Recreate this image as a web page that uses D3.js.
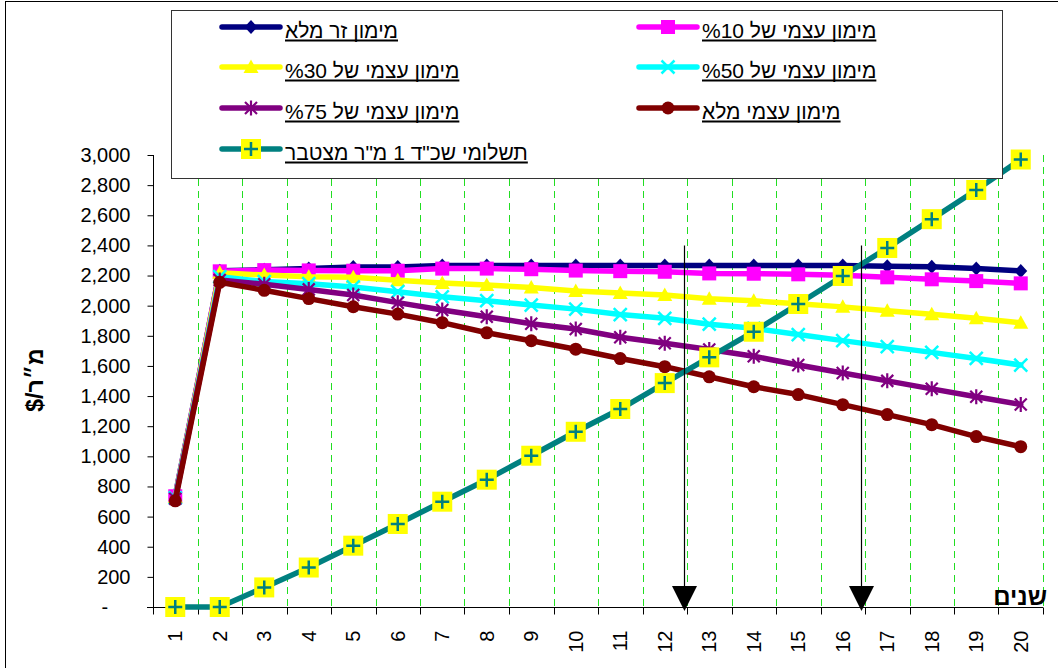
<!DOCTYPE html>
<html>
<head>
<meta charset="utf-8">
<script src="https://cdn.jsdelivr.net/npm/d3@7"></script>
<style>
  html, body { margin: 0; padding: 0; background: #fff; }
  svg { display: block; font-family: "Liberation Sans", Arial, "DejaVu Sans", sans-serif; }
</style>
</head>
<body>
<svg id="chart" width="1058" height="668"></svg>
<script>
// ---- data -------------------------------------------------------------
const years = [1, 2, 3, 4, 5, 6, 7, 8, 9, 10, 11, 12, 13, 14, 15, 16, 17, 18, 19, 20];
const yTicks = [0, 200, 400, 600, 800, 1000, 1200, 1400, 1600, 1800, 2000, 2200, 2400, 2600, 2800, 3000];

const foreignFull  = [740, 2232, 2238, 2247, 2256, 2257, 2266, 2267, 2267, 2267, 2267, 2267, 2267, 2267, 2267, 2267, 2262, 2258, 2246, 2230];
const equity10     = [735, 2228, 2236, 2234, 2232, 2232, 2246, 2246, 2242, 2233, 2229, 2225, 2214, 2212, 2208, 2202, 2188, 2175, 2163, 2148];
const equity30     = [730, 2218, 2203, 2192, 2188, 2168, 2150, 2137, 2120, 2098, 2084, 2071, 2046, 2032, 2012, 1992, 1966, 1943, 1916, 1886];
const equity50     = [725, 2192, 2160, 2146, 2124, 2093, 2059, 2033, 2004, 1977, 1941, 1916, 1877, 1850, 1808, 1768, 1728, 1690, 1650, 1606];
const equity75     = [718, 2170, 2142, 2108, 2071, 2020, 1971, 1927, 1880, 1845, 1790, 1750, 1709, 1664, 1606, 1553, 1501, 1448, 1396, 1344];
const equityFull   = [705, 2155, 2102, 2047, 1993, 1944, 1887, 1820, 1767, 1711, 1649, 1595, 1528, 1462, 1410, 1343, 1277, 1210, 1131, 1064];
const rentCumul    = [0, 0, 130, 262, 407, 551, 699, 845, 1004, 1163, 1314, 1486, 1657, 1827, 2011, 2197, 2383, 2574, 2768, 2970];

// years where the cumulative rent line crosses the financing curves
const crossYears = [12.43, 16.41];
const crossTop = 2400;

const seriesNames = [
  "מימון זר מלא",
  "מימון עצמי  של %10",
  "מימון עצמי  של %30",
  "מימון עצמי  של %50",
  "מימון עצמי  של %75",
  "מימון עצמי מלא",
  "תשלומי  שכ\"ד 1 מ\"ר מצטבר"
];
const yTitle = "מ״ר/$";
const xTitle = "שנים";

// ---- series styling -----------------------------------------------------
const series = [
  { name: seriesNames[0], values: foreignFull, color: "#000080", marker: "diamond" },
  { name: seriesNames[1], values: equity10,    color: "#FF00FF", marker: "square" },
  { name: seriesNames[2], values: equity30,    color: "#FFFF00", marker: "triangle" },
  { name: seriesNames[3], values: equity50,    color: "#00FFFF", marker: "cross" },
  { name: seriesNames[4], values: equity75,    color: "#800080", marker: "star" },
  { name: seriesNames[5], values: equityFull,  color: "#800000", marker: "circle" },
  { name: seriesNames[6], values: rentCumul,   color: "#008080", marker: "plus", bg: "#FFFF00" }
];

// ---- layout ---------------------------------------------------------------
const svg = d3.select("#chart");
const plot = { left: 153, right: 1043, top: 155, bottom: 607 };

const x = d3.scaleLinear().domain([0.5, 20.5]).range([plot.left, plot.right]);
const y = d3.scaleLinear().domain([0, 3000]).range([plot.bottom, plot.top]);

// outer chart frame
svg.append("rect")
  .attr("x", 5.5).attr("y", 1.5)
  .attr("width", 1100).attr("height", 700)
  .attr("fill", "none").attr("stroke", "#000").attr("stroke-width", 1);

// vertical dashed gridlines on category boundaries
const boundaries = years.map(v => v + 0.5);
svg.append("g").selectAll("line")
  .data(boundaries)
  .join("line")
  .attr("x1", d => Math.round(x(d)) + 0.5)
  .attr("x2", d => Math.round(x(d)) + 0.5)
  .attr("y1", plot.top)
  .attr("y2", plot.bottom)
  .attr("stroke", "#22DD22")
  .attr("stroke-width", 1)
  .attr("stroke-dasharray", "7,5");

// y axis
const yAxis = d3.axisLeft(y)
  .tickValues(yTicks)
  .tickSize(6)
  .tickPadding(17)
  .tickFormat(d => d === 0 ? "-\u2007\u2007" : d3.format(",")(d));
const yG = svg.append("g")
  .attr("transform", `translate(${plot.left + 0.5},0)`)
  .call(yAxis);
yG.select(".domain").attr("d", `M0,${plot.top}V${plot.bottom + 7}`).attr("stroke", "#000");
yG.selectAll(".tick line").attr("stroke", "#000");
yG.selectAll(".tick text")
  .attr("font-family", "'Liberation Sans', Arial, sans-serif")
  .attr("font-size", 20)
  .attr("fill", "#000");

// x axis: ticks on boundaries, labels on years
const xG = svg.append("g").attr("transform", `translate(0,${plot.bottom + 0.5})`);
xG.append("line")
  .attr("x1", plot.left - 6).attr("x2", plot.right)
  .attr("stroke", "#000");
xG.selectAll(".xtick")
  .data([0.5].concat(boundaries))
  .join("line")
  .attr("class", "xtick")
  .attr("x1", d => Math.round(x(d)) + 0.5)
  .attr("x2", d => Math.round(x(d)) + 0.5)
  .attr("y1", 0).attr("y2", 7)
  .attr("stroke", "#000");
xG.selectAll(".xlabel")
  .data(years)
  .join("text")
  .attr("class", "xlabel")
  .attr("transform", d => `translate(${x(d) + 7},23) rotate(-90)`)
  .attr("text-anchor", "end")
  .attr("font-size", 20)
  .attr("fill", "#000")
  .text(d => d);

// ---- markers ----------------------------------------------------------------
function drawMarker(g, s) {
  const c = s.color;
  switch (s.marker) {
    case "diamond":
      g.append("path").attr("d", "M0,-7L6.5,0L0,7L-6.5,0Z").attr("fill", c);
      break;
    case "square":
      g.append("rect").attr("x", -7).attr("y", -7).attr("width", 14).attr("height", 14).attr("fill", c);
      break;
    case "triangle":
      g.append("path").attr("d", "M0,-7.5L7.5,6L-7.5,6Z").attr("fill", c);
      break;
    case "cross":
      g.append("path").attr("d", "M-6.5,-6.5L6.5,6.5M-6.5,6.5L6.5,-6.5")
        .attr("stroke", c).attr("stroke-width", 2.5).attr("fill", "none");
      break;
    case "star":
      g.append("path").attr("d", "M-6,-6L6,6M-6,6L6,-6M0,-7.5L0,7.5")
        .attr("stroke", c).attr("stroke-width", 2.2).attr("fill", "none");
      break;
    case "circle":
      g.append("circle").attr("r", 6.5).attr("fill", c);
      break;
    case "plus":
      g.append("rect").attr("x", -10).attr("y", -10).attr("width", 20).attr("height", 20).attr("fill", s.bg);
      g.append("path").attr("d", "M-7,0H7M0,-7V7")
        .attr("stroke", c).attr("stroke-width", 2.5).attr("fill", "none");
      break;
  }
}

// ---- series -------------------------------------------------------------------
const line = d3.line().x(d => x(d.year)).y(d => y(d.v));

series.forEach(s => {
  const pts = years.map((yr, i) => ({ year: yr, v: s.values[i] }));
  const g = svg.append("g");
  g.append("path")
    .datum(pts)
    .attr("d", line)
    .attr("fill", "none")
    .attr("stroke", s.color)
    .attr("stroke-width", 5.5)
    .attr("stroke-linejoin", "round")
    .attr("stroke-linecap", "round");
  g.selectAll(".m")
    .data(pts)
    .join("g")
    .attr("class", "m")
    .attr("transform", d => `translate(${x(d.year)},${y(d.v)})`)
    .each(function () { drawMarker(d3.select(this), s); });
});

// ---- crossing arrows ------------------------------------------------------------
crossYears.forEach(cy => {
  const ax = Math.round(x(cy)) + 0.5;
  svg.append("line")
    .attr("x1", ax).attr("x2", ax)
    .attr("y1", y(crossTop)).attr("y2", plot.bottom - 10)
    .attr("stroke", "#000").attr("stroke-width", 1.2);
  svg.append("path")
    .attr("d", `M${ax - 12.5},${plot.bottom - 21}L${ax + 12.5},${plot.bottom - 21}L${ax},${plot.bottom + 4}Z`)
    .attr("fill", "#000");
});

// ---- axis titles ------------------------------------------------------------------
svg.append("text")
  .attr("transform", "translate(43,380) rotate(-90)")
  .attr("text-anchor", "middle")
  .attr("direction", "rtl")
  .style("unicode-bidi", "embed")
  .attr("font-size", 23)
  .attr("font-weight", "bold")
  .attr("fill", "#000")
  .text(yTitle);

svg.append("text")
  .attr("x", 1047).attr("y", 605)
  .attr("text-anchor", "end")
  .attr("font-size", 24)
  .attr("font-weight", "bold")
  .attr("fill", "#000")
  .text(xTitle);

// ---- legend -------------------------------------------------------------------------
const legend = svg.append("g");
legend.append("rect")
  .attr("x", 171.5).attr("y", 10.5)
  .attr("width", 831).attr("height", 168)
  .attr("fill", "#fff").attr("stroke", "#333").attr("stroke-width", 1);

const legendSlots = [
  { s: 0, col: 0, row: 0 }, { s: 1, col: 1, row: 0 },
  { s: 2, col: 0, row: 1 }, { s: 3, col: 1, row: 1 },
  { s: 4, col: 0, row: 2 }, { s: 5, col: 1, row: 2 },
  { s: 6, col: 0, row: 3 }
];
const colX = [222, 639];
const rowY = [27, 67, 108, 149];

legendSlots.forEach(slot => {
  const s = series[slot.s];
  const x0 = colX[slot.col], ry = rowY[slot.row];
  const g = legend.append("g");
  g.append("line")
    .attr("x1", x0).attr("x2", x0 + 58)
    .attr("y1", ry).attr("y2", ry)
    .attr("stroke", s.color).attr("stroke-width", 5.5)
    .attr("stroke-linecap", "round");
  const mg = g.append("g").attr("transform", `translate(${x0 + 29},${ry})`);
  drawMarker(mg, s);
  const t = g.append("text")
    .attr("x", x0 + 63).attr("y", ry + 11)
    .attr("text-anchor", "end")
    .attr("direction", "rtl")
    .style("unicode-bidi", "embed")
    .attr("font-size", 21)
    .attr("fill", "#000")
    .text(s.name);
  const bb = t.node().getBBox();
  g.append("line")
    .attr("x1", bb.x).attr("x2", bb.x + bb.width)
    .attr("y1", ry + 13.5).attr("y2", ry + 13.5)
    .attr("stroke", "#000").attr("stroke-width", 2);
});
</script>
</body>
</html>
